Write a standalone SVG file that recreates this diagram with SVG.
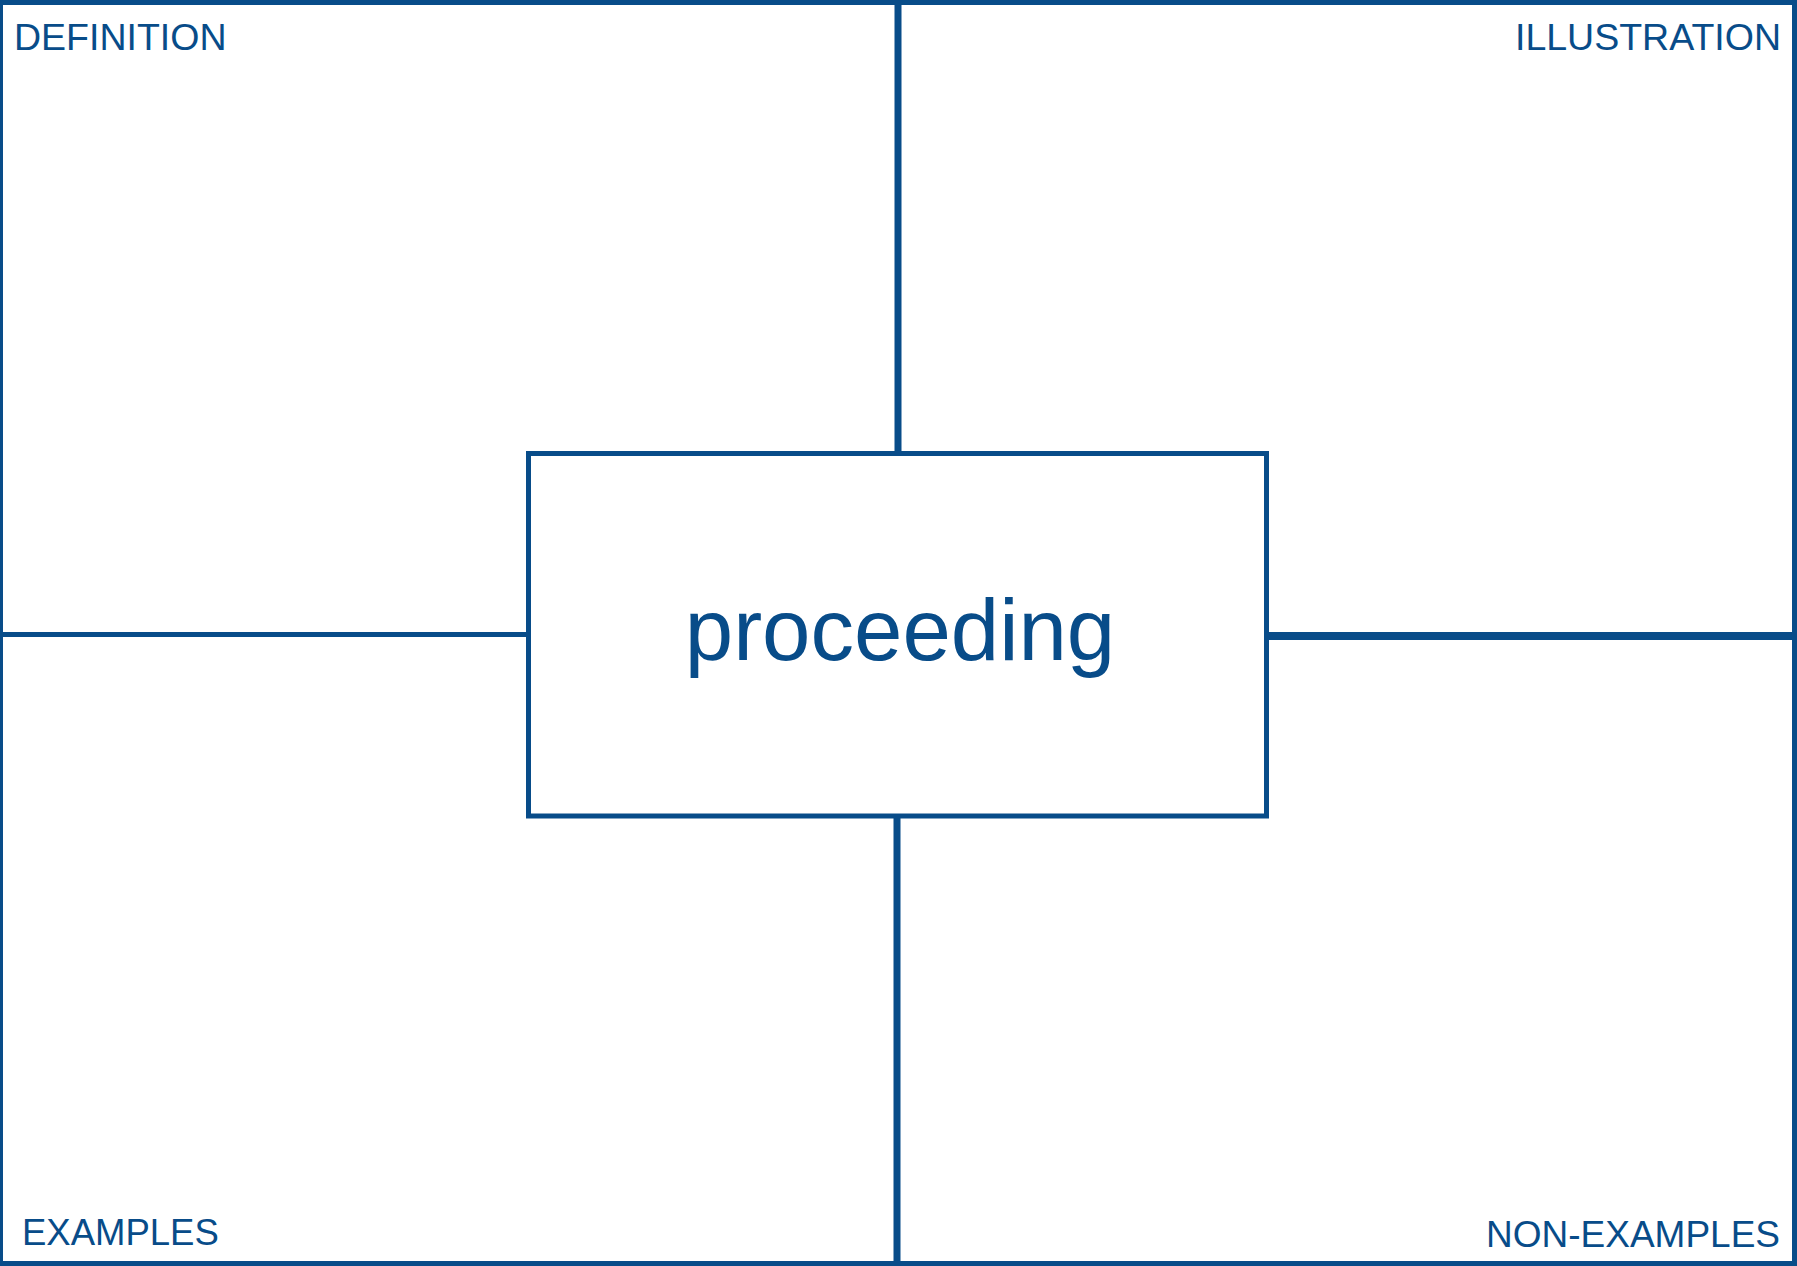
<svg xmlns="http://www.w3.org/2000/svg" width="1797" height="1266" viewBox="0 0 1797 1266">
<style>
.ln{stroke:#084c89;fill:none}
.lbl{font-family:"Liberation Sans",Arial,sans-serif;fill:#084c89}
</style>
<rect x="0" y="0" width="1797" height="1266" fill="#ffffff"/>
<g id="frame">
<line class="ln" x1="0" y1="0" x2="1797" y2="0" stroke-width="10"/>
<line class="ln" x1="0" y1="0" x2="0" y2="1266" stroke-width="6"/>
<line class="ln" x1="0" y1="1266" x2="1797" y2="1266" stroke-width="10"/>
<line class="ln" x1="1794.5" y1="0" x2="1794.5" y2="1266" stroke-width="5"/>
</g>
<g id="connectors">
<line class="ln" x1="898" y1="0" x2="898" y2="453" stroke-width="7"/>
<line class="ln" x1="897" y1="816" x2="897" y2="1266" stroke-width="7"/>
<line class="ln" x1="0" y1="634.5" x2="528" y2="634.5" stroke-width="5"/>
<line class="ln" x1="1266" y1="636" x2="1795" y2="636" stroke-width="8"/>
</g>
<g id="definition"><text class="lbl" x="14" y="50" font-size="37.5">DEFINITION</text></g>
<g id="illustration"><text class="lbl" x="1781" y="50" font-size="37.5" text-anchor="end">ILLUSTRATION</text></g>
<g id="examples"><text class="lbl" x="22" y="1245" font-size="36.5">EXAMPLES</text></g>
<g id="non-examples"><text class="lbl" x="1780" y="1247" font-size="37" text-anchor="end">NON-EXAMPLES</text></g>
<g id="center">
<rect class="ln" x="528.5" y="453.5" width="738" height="362.5" stroke-width="5" fill="#ffffff"/>
<text class="lbl" x="900" y="660" font-size="87" text-anchor="middle">proceeding</text>
</g>
</svg>
